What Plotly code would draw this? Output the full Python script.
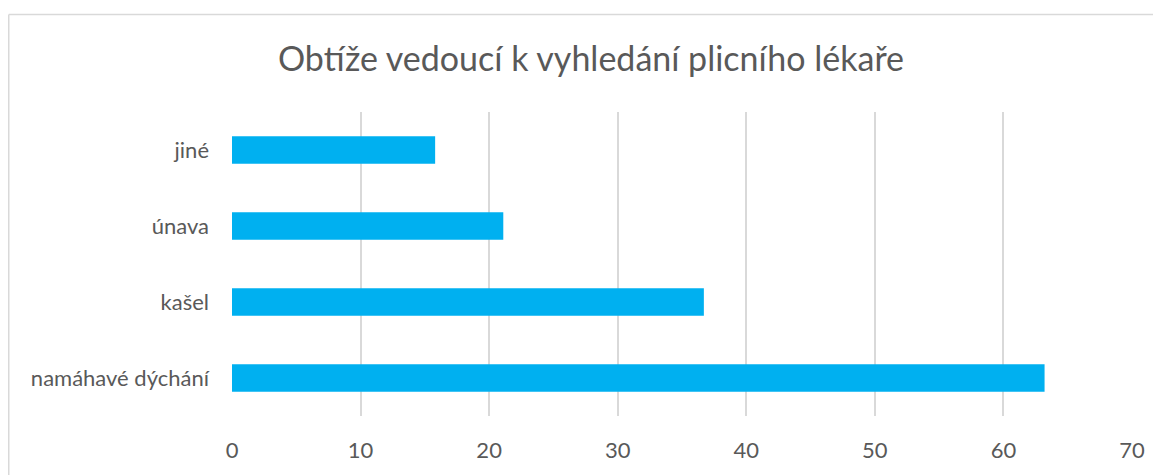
import plotly.graph_objects as go

categories = ["namáhavé dýchání", "kašel", "únava", "jiné"]
values = [63.2, 36.7, 21.1, 15.8]
x_ticks = [0, 10, 20, 30, 40, 50, 60, 70]

title_text = "Obtíže vedoucí k vyhledání plicního lékaře"

W, H = 1153, 467  # page body has an 8px margin
L, R, T, B = 224, 1124, 104, 413  # plot area in figure pixels

bx = (0.75 - L) / (R - L)
by = (B - 5) / (B - T)

fig = go.Figure(go.Bar(
    x=values, y=categories, orientation="h",
    marker=dict(color="#00B0F0", line=dict(width=0)),
    width=0.36,
))

fig.update_layout(
    width=W, height=H,
    margin=dict(l=L, r=W - R, t=T, b=H - B),
    paper_bgcolor="white", plot_bgcolor="white",
    font=dict(family="Lato, 'Open Sans', sans-serif", color="#595959", size=22),
    title=dict(text=title_text, x=583 / W, xanchor="center", xref="container",
               y=1 - 51 / H, yanchor="middle", yref="container",
               font=dict(size=34, color="#595959")),
    showlegend=False,
    xaxis=dict(range=[0, 70], tickvals=x_ticks, showgrid=True, gridcolor="#D9D9D9",
               gridwidth=1.5, zeroline=False, showline=False, ticks="",
               ticklabelstandoff=19, tickfont=dict(size=22)),
    yaxis=dict(categoryorder="array", categoryarray=categories, showgrid=False,
               zeroline=False, showline=False, ticks="", ticklabelstandoff=22,
               tickfont=dict(size=22)),
    shapes=[
        dict(type="line", xref="paper", yref="paper", x0=bx, x1=1.5, y0=by, y1=by,
             line=dict(color="#D9D9D9", width=1.5), layer="below"),
        dict(type="line", xref="paper", yref="paper", x0=bx, x1=bx, y0=by, y1=-1,
             line=dict(color="#D9D9D9", width=1.5), layer="below"),
    ],
)

fig.write_html("out.html", config={"displayModeBar": False})
